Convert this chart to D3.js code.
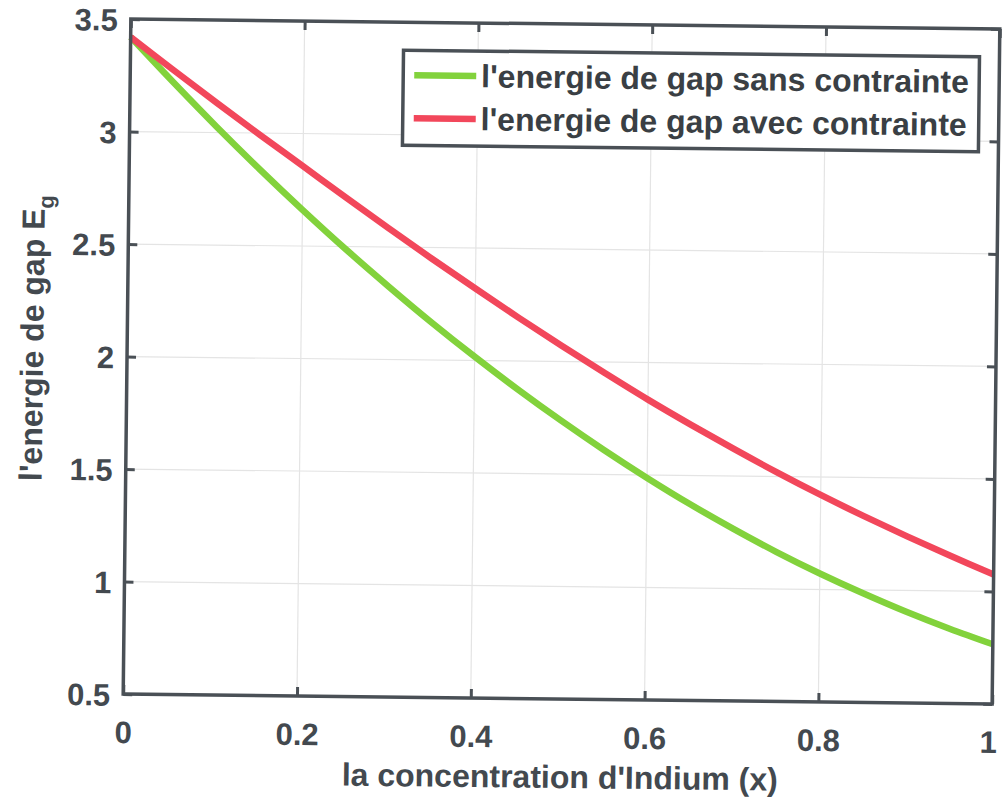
<!DOCTYPE html>
<html>
<head>
<meta charset="utf-8">
<script src="https://cdn.jsdelivr.net/npm/d3@7"></script>
<style>
  body { margin: 0; background: #fff; }
  svg { display: block; }
  text { font-family: "Liberation Sans", Arial, sans-serif; font-weight: bold; }
</style>
</head>
<body>
<div id="chart"></div>
<script>
// concentration d'indium (x)
var xVals = [0, 0.05, 0.1, 0.15, 0.2, 0.25, 0.3, 0.35, 0.4, 0.45, 0.5,
             0.55, 0.6, 0.65, 0.7, 0.75, 0.8, 0.85, 0.9, 0.95, 1];
// energie de gap sans contrainte (vert)
var egSans = [3.42, 3.22, 3.026, 2.84, 2.661, 2.489, 2.325, 2.167, 2.017, 1.874, 1.738,
              1.609, 1.487, 1.372, 1.265, 1.164, 1.071, 0.985, 0.905, 0.832, 0.765];
// energie de gap avec contrainte (rouge)
var egAvec = [3.42, 3.275, 3.132, 2.992, 2.855, 2.717, 2.582, 2.449, 2.32, 2.193, 2.07,
              1.951, 1.835, 1.725, 1.619, 1.517, 1.42, 1.328, 1.24, 1.156, 1.075];

var seriesNames = ["l'energie de gap sans contrainte", "l'energie de gap avec contrainte"];
var xTicks = [0, 0.2, 0.4, 0.6, 0.8, 1];
var yTicks = [0.5, 1, 1.5, 2, 2.5, 3, 3.5];

var W = 1002, H = 810;
var plotL = 127, plotR = 996, plotT = 24, plotB = 699;
var axisColor = "#4a5056", textColor = "#43494f";
var color = d3.scaleOrdinal().domain(seriesNames).range(["#82d23c", "#f2475b"]);

var x = d3.scaleLinear().domain([0, 1]).range([plotL, plotR]);
var y = d3.scaleLinear().domain([0.5, 3.5]).range([plotB, plotT]);

var svg = d3.select("#chart").append("svg")
    .attr("width", W)
    .attr("height", H);

// the scanned figure is slightly tilted
var g = svg.append("g")
    .attr("transform", "rotate(0.65," + (plotL + plotR) / 2 + "," + (plotT + plotB) / 2 + ")");

// grid
g.append("g").selectAll("line")
    .data(xTicks.slice(1, -1))
    .enter().append("line")
    .attr("x1", function (d) { return x(d); })
    .attr("x2", function (d) { return x(d); })
    .attr("y1", plotT).attr("y2", plotB)
    .style("stroke", "#e4e4e4").style("stroke-width", 1.2);
g.append("g").selectAll("line")
    .data(yTicks.slice(1, -1))
    .enter().append("line")
    .attr("y1", function (d) { return y(d); })
    .attr("y2", function (d) { return y(d); })
    .attr("x1", plotL).attr("x2", plotR)
    .style("stroke", "#e4e4e4").style("stroke-width", 1.2);

// axes (ticks inward)
var fmt = d3.format("~g");
var xAxis = g.append("g")
    .attr("transform", "translate(0," + plotB + ")")
    .call(d3.axisBottom(x).tickValues(xTicks).tickFormat(fmt).tickSizeInner(-9).tickSizeOuter(0).tickPadding(27));
var xTop = g.append("g")
    .attr("transform", "translate(0," + plotT + ")")
    .call(d3.axisTop(x).tickValues(xTicks).tickFormat("").tickSizeInner(-9).tickSizeOuter(0));
var yAxis = g.append("g")
    .attr("transform", "translate(" + plotL + ",0)")
    .call(d3.axisLeft(y).tickValues(yTicks).tickFormat(fmt).tickSizeInner(-9).tickSizeOuter(0).tickPadding(13));
var yRight = g.append("g")
    .attr("transform", "translate(" + plotR + ",0)")
    .call(d3.axisRight(y).tickValues(yTicks).tickFormat("").tickSizeInner(-9).tickSizeOuter(0));

[xAxis, xTop, yAxis, yRight].forEach(function (a) {
    a.select(".domain").remove();
    a.selectAll(".tick line").style("stroke", axisColor).style("stroke-width", 3);
    a.selectAll("text")
        .style("font-size", "31px")
        .style("fill", textColor);
});
yAxis.selectAll("text").attr("dy", "0.36em");
// last x label sits at the page edge
xAxis.selectAll(".tick text").filter(function (d) { return d === 1; }).attr("dx", -4);

// curves
var line = d3.line()
    .x(function (d) { return x(d[0]); })
    .y(function (d) { return y(d[1]); })
    .curve(d3.curveCatmullRom);

var series = [
    { name: seriesNames[0], values: xVals.map(function (v, i) { return [v, egSans[i]]; }) },
    { name: seriesNames[1], values: xVals.map(function (v, i) { return [v, egAvec[i]]; }) }
];

g.selectAll(".series")
    .data(series)
    .enter().append("path")
    .attr("class", "series")
    .attr("d", function (d) { return line(d.values); })
    .style("fill", "none")
    .style("stroke", function (d) { return color(d.name); })
    .style("stroke-width", 6.5)
    .style("stroke-linejoin", "round");

// box
g.append("rect")
    .attr("x", plotL).attr("y", plotT)
    .attr("width", plotR - plotL).attr("height", plotB - plotT)
    .style("fill", "none")
    .style("stroke", axisColor)
    .style("stroke-width", 3.5);

// legend
var legend = g.append("g").attr("class", "legend");
legend.append("rect")
    .attr("x", 400).attr("y", 52)
    .attr("width", 576).attr("height", 95)
    .style("fill", "#fff")
    .style("stroke", axisColor)
    .style("stroke-width", 3.5);
var item = legend.selectAll(".item")
    .data(seriesNames)
    .enter().append("g")
    .attr("class", "item")
    .attr("transform", function (d, i) { return "translate(0," + (77 + i * 43) + ")"; });
item.append("line")
    .attr("x1", 411).attr("x2", 473)
    .attr("y1", 0).attr("y2", 0)
    .style("stroke", function (d) { return color(d); })
    .style("stroke-width", 6.5);
item.append("text")
    .attr("x", 478)
    .attr("y", 0)
    .attr("dy", "0.35em")
    .style("font-size", "32px")
    .style("fill", "#3a3f44")
    .text(function (d) { return d; });

// axis titles
g.append("text")
    .attr("x", (plotL + plotR) / 2 + 3)
    .attr("y", 788)
    .attr("text-anchor", "middle")
    .style("font-size", "32px")
    .style("fill", textColor)
    .text("la concentration d'Indium (x)");

var ylab = g.append("text")
    .attr("transform", "translate(43,344) rotate(-90)")
    .attr("text-anchor", "middle")
    .style("font-size", "32px")
    .style("fill", textColor);
ylab.append("tspan").text("l'energie de gap E");
ylab.append("tspan").attr("dy", 9).style("font-size", "22px").text("g");
</script>
</body>
</html>
